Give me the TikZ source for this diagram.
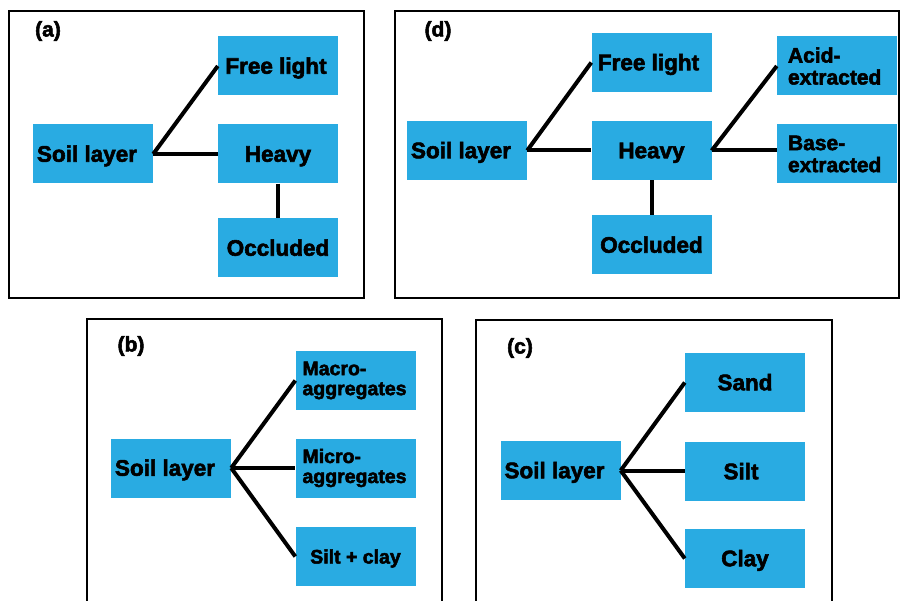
\documentclass[tikz,border=0pt]{standalone}
\usepackage{fontspec}
\setmainfont{Liberation Sans}[BoldFeatures={FakeBold=2.5}]
\definecolor{cblue}{HTML}{29ABE2}
\begin{document}
\begin{tikzpicture}[x=1pt,y=-1pt,
  frame/.style={draw=black,line width=2.6pt},
  box/.style={fill=cblue,minimum width=120pt,minimum height=59pt,inner sep=0pt,
    text height=15.5pt,text depth=0pt,
    font=\fontsize{22.5}{24}\selectfont\bfseries},
  twoline/.style={fill=cblue,minimum width=120pt,minimum height=59pt,inner sep=0pt,
    align=left,text width=106pt,
    font=\fontsize{19.5}{20}\selectfont\bfseries},
  twolined/.style={twoline,text width=98pt,
    font=\fontsize{21}{22}\selectfont\bfseries},
  conn/.style={draw=black,line width=4pt},
  plabel/.style={font=\fontsize{21}{24}\selectfont\bfseries,inner sep=0pt}]
\useasboundingbox (0,0) rectangle (901,601);
\clip (0,0) rectangle (901,601);
\fill[white] (0,0) rectangle (901,601);
% frames
\draw[frame] (9,11) rectangle (364,298);
\draw[frame] (395,11) rectangle (899,298);
\draw[frame] (87,319) rectangle (442,620);
\draw[frame] (476,320) rectangle (832,620);
% panel labels
\node[plabel] (la) at (48,31) {(a)};
\node[plabel] (ld) at (438,31) {(d)};
\node[plabel] (lb) at (131,346) {(b)};
\node[plabel] (lc) at (520,348) {(c)};
% (a)
\node[box] (soilA) at (93,154) {\hspace*{-12pt}Soil layer};
\node[box] (freeA) at (278,66) {\hspace*{-4pt}Free light};
\node[box,text depth=-2pt] (heavyA) at (278,154) {Heavy};
\node[box] (occA) at (278,248) {Occluded};
\draw[conn] (soilA.east) -- (freeA.west);
\draw[conn] (soilA.east) -- (heavyA.west);
\draw[conn] (heavyA.south) -- (occA.north);
% (d)
\node[box] (soilD) at (467,150.5) {\hspace*{-12pt}Soil layer};
\node[box] (freeD) at (651.5,62.5) {\hspace*{-6pt}Free light};
\node[box,text depth=-2pt] (heavyD) at (651.5,150.5) {Heavy};
\node[box] (occD) at (651.5,245) {Occluded};
\node[twolined] (acidD) at (837,66) {Acid-\\extracted};
\node[twolined] (baseD) at (837,154) {Base-\\extracted};
\draw[conn] (soilD.east) -- (freeD.west);
\draw[conn] (soilD.east) -- (heavyD.west);
\draw[conn] (heavyD.east) -- (acidD.west);
\draw[conn] (heavyD.east) -- (heavyD.east -| baseD.west);
\draw[conn] (heavyD.south) -- (occD.north);
% (b)
\node[box] (soilB) at (171,468) {\hspace*{-12pt}Soil layer};
\node[twoline] (macroB) at (355.5,380.5) {Macro-\\aggregates};
\node[twoline] (microB) at (355.5,468) {Micro-\\aggregates};
\node[box,font=\fontsize{19.5}{22}\selectfont\bfseries,text height=14pt] (scB) at (355.5,556.5) {Silt + clay};
\draw[conn] (soilB.east) -- (macroB.west);
\draw[conn] (soilB.east) -- (microB.west);
\draw[conn] (soilB.east) -- (scB.west);
% (c)
\node[box] (soilC) at (560.5,470.5) {\hspace*{-12pt}Soil layer};
\node[box] (sandC) at (745,382.5) {Sand};
\node[box] (siltC) at (745,471.5) {\hspace*{-8pt}Silt};
\node[box] (clayC) at (745,558.5) {Clay};
\draw[conn] (soilC.east) -- (sandC.west);
\draw[conn] (soilC.east) -- (soilC.east -| siltC.west);
\draw[conn] (soilC.east) -- (clayC.west);
\end{tikzpicture}
\end{document}
